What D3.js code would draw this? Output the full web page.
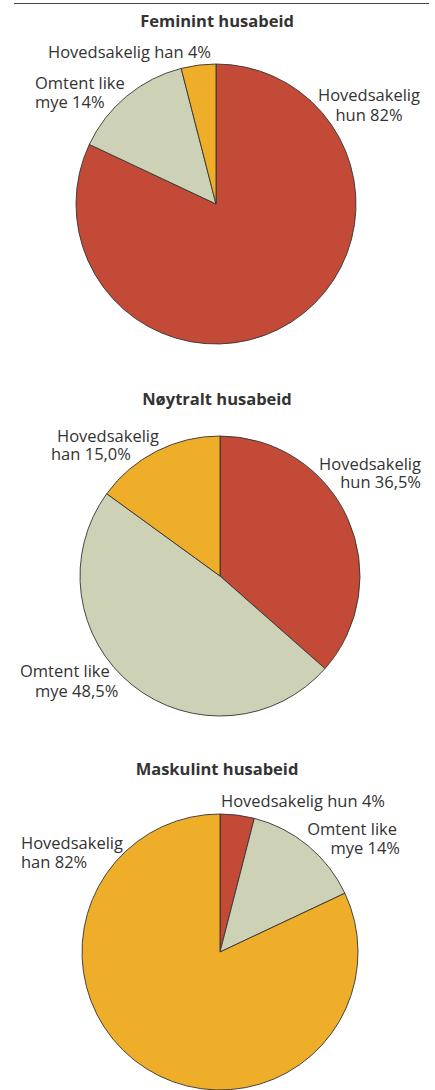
<!DOCTYPE html>
<html>
<head>
<meta charset="utf-8">
<script src="https://cdn.jsdelivr.net/npm/d3@7"></script>
<style>
  body { margin: 0; background: #fff; }
  text { font-family: "Open Sans", sans-serif; fill: #333; }
</style>
</head>
<body>
<div class="canvas"></div>
<script>
// data
const categories = ['Hovedsakelig hun', 'Omtent like mye', 'Hovedsakelig han'];
const titles = ['Feminint husabeid', 'Nøytralt husabeid', 'Maskulint husabeid'];
const femininValues = [82, 14, 4];
const noytralValues = [36.5, 48.5, 15.0];
const maskulinValues = [4, 14, 82];
const colors = ['#c24a37', '#cdd1b5', '#efae29'];

// norwegian number format (comma decimal)
const no = d3.formatLocale({ decimal: ',', thousands: ' ', grouping: [3], currency: ['', ' kr'] });

// layout of each chart (center, radius, title, label lines)
const charts = [
  {
    values: femininValues, fmt: no.format('d'), cx: 216, cy: 204, r: 140, titleY: 27,
    labels: [
      [{ x: 369, y: 101, a: 'middle', t: 0 }, { x: 369, y: 121, a: 'middle', t: 1 }],
      [{ x: 35, y: 89, a: 'start', t: 0 }, { x: 35, y: 108, a: 'start', t: 1 }],
      [{ x: 48, y: 58, a: 'start', t: 2 }]
    ]
  },
  {
    values: noytralValues, fmt: no.format('.1f'), cx: 220, cy: 576, r: 140, titleY: 405,
    labels: [
      [{ x: 421, y: 470, a: 'end', t: 0 }, { x: 421, y: 488, a: 'end', t: 1 }],
      [{ x: 20, y: 677, a: 'start', t: 0 }, { x: 35, y: 697, a: 'start', t: 1 }],
      [{ x: 57, y: 442, a: 'start', t: 0 }, { x: 51, y: 460, a: 'start', t: 1 }]
    ]
  },
  {
    values: maskulinValues, fmt: no.format('d'), cx: 220, cy: 952, r: 138, titleY: 775,
    labels: [
      [{ x: 221, y: 807, a: 'start', t: 2 }],
      [{ x: 397, y: 835, a: 'end', t: 0 }, { x: 400, y: 854, a: 'end', t: 1 }],
      [{ x: 21, y: 849, a: 'start', t: 0 }, { x: 21, y: 868, a: 'start', t: 1 }]
    ]
  }
];

// label text for part t of a category: 0 = first word(s), 1 = rest + value, 2 = whole line
function labelText(cat, value, fmt, t) {
  const words = cat.split(' ');
  const first = cat.startsWith('Omtent') ? words.slice(0, 2).join(' ') : words[0];
  const rest = cat.slice(first.length + 1);
  if (t === 0) return first;
  if (t === 1) return rest + ' ' + fmt(value) + '%';
  return cat + ' ' + fmt(value) + '%';
}

const svg = d3.select('.canvas')
  .append('svg')
  .attr('width', 435)
  .attr('height', 1090);

// top rule
svg.append('line')
  .attr('x1', 14).attr('x2', 429)
  .attr('y1', 3.5).attr('y2', 3.5)
  .attr('stroke', '#444')
  .attr('stroke-width', 1.2);

const pie = d3.pie().sort(null).value(d => d);

charts.forEach((c, i) => {
  svg.append('text')
    .attr('x', 217)
    .attr('y', c.titleY)
    .attr('text-anchor', 'middle')
    .attr('font-size', 16.5)
    .attr('font-weight', 'bold')
    .text(titles[i]);

  const arc = d3.arc().innerRadius(0).outerRadius(c.r);
  const g = svg.append('g').attr('transform', `translate(${c.cx}, ${c.cy})`);

  g.selectAll('path')
    .data(pie(c.values))
    .enter()
    .append('path')
      .attr('d', arc)
      .attr('fill', (d, j) => colors[j])
      .attr('stroke', '#333')
      .attr('stroke-width', 0.9)
      .attr('stroke-linejoin', 'round');

  // one text per slice label, lines as tspans
  c.labels.forEach((lines, j) => {
    const label = svg.append('text')
      .attr('font-size', 16.5);
    lines.forEach(l => {
      label.append('tspan')
        .attr('x', l.x)
        .attr('y', l.y)
        .attr('text-anchor', l.a)
        .text(labelText(categories[j], c.values[j], c.fmt, l.t));
    });
  });
});
</script>
</body>
</html>
